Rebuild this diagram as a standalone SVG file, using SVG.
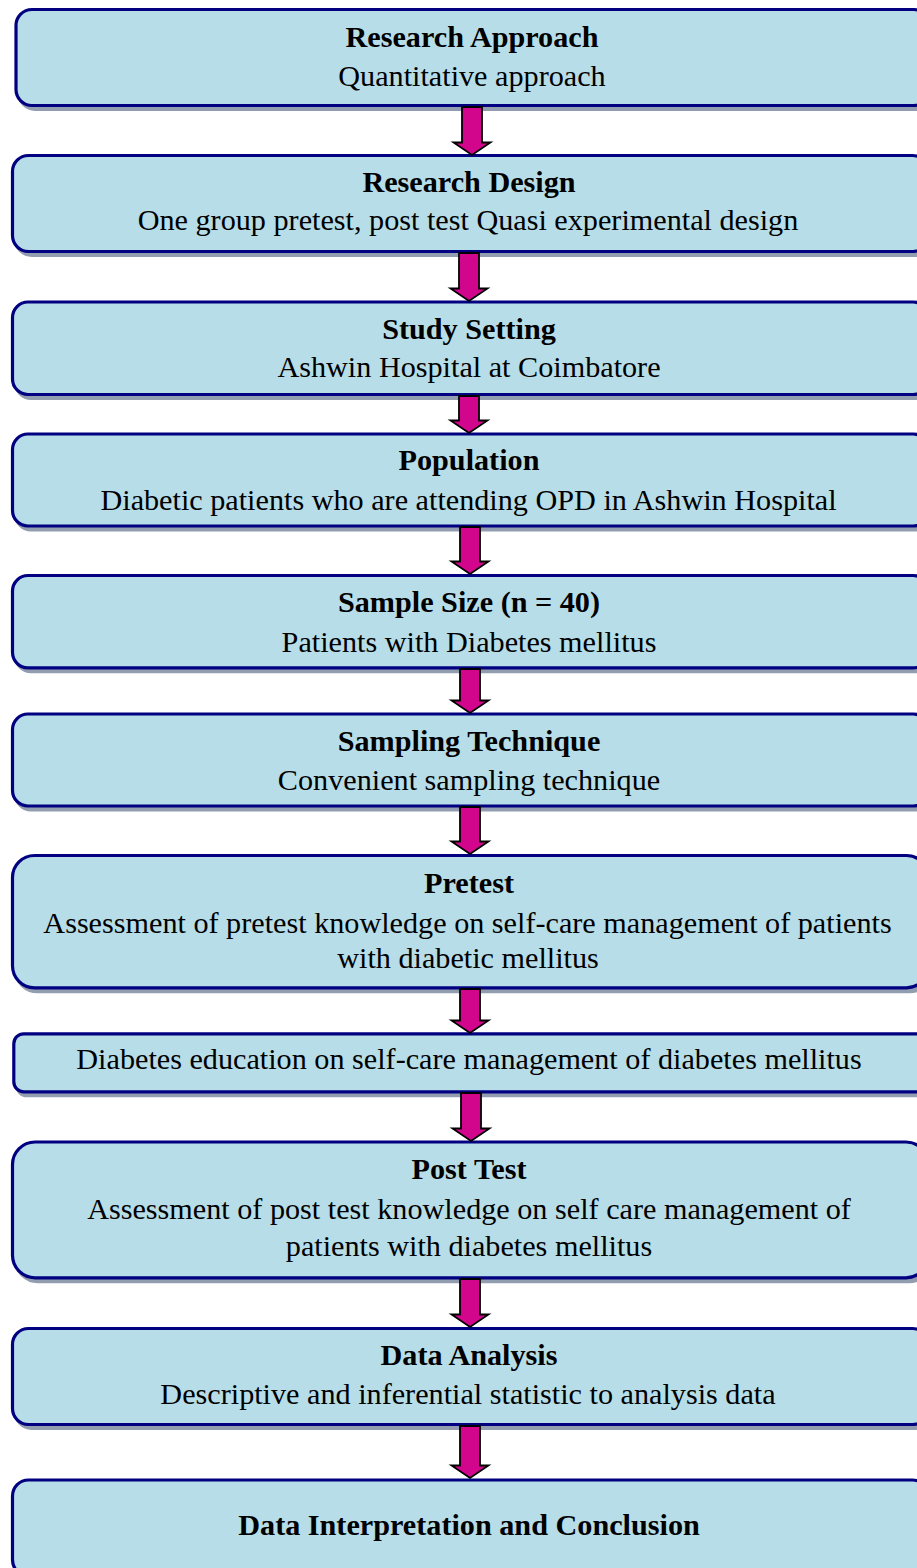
<svg xmlns="http://www.w3.org/2000/svg" width="917" height="1568" viewBox="0 0 917 1568">
<style>
.box{fill:#b7dde8;stroke:#000080;stroke-width:3.2}
.sh{fill:#929eb0;stroke:#929eb0;stroke-width:3}
.arr{fill:#d1068c;stroke:#000;stroke-width:1.8;stroke-linejoin:miter}
text{font-family:"Liberation Serif","Times New Roman",serif;font-size:30.2px;fill:#000;text-anchor:middle}
.t{font-weight:bold}
</style>
<rect width="917" height="1568" fill="#fff"/>
<g id="n1">
<rect class="sh" x="19" y="13.5" width="914" height="96" rx="16"/>
<rect class="box" x="16" y="9.5" width="914" height="96" rx="16"/>
<text class="t" x="472" y="47">Research Approach</text>
<text x="472" y="86">Quantitative approach</text>
</g>
<g id="n2">
<rect class="sh" x="15.5" y="159.5" width="916" height="96" rx="16"/>
<rect class="box" x="12.5" y="155.5" width="916" height="96" rx="16"/>
<text class="t" x="469" y="192">Research Design</text>
<text x="468" y="230">One group pretest, post test Quasi experimental design</text>
</g>
<g id="n3">
<rect class="sh" x="15.5" y="306" width="916" height="92.5" rx="15.5"/>
<rect class="box" x="12.5" y="302" width="916" height="92.5" rx="15.5"/>
<text class="t" x="469" y="339">Study Setting</text>
<text x="469" y="377">Ashwin Hospital at Coimbatore</text>
</g>
<g id="n4">
<rect class="sh" x="15.5" y="438" width="916" height="92" rx="15.5"/>
<rect class="box" x="12.5" y="434" width="916" height="92" rx="15.5"/>
<text class="t" x="469" y="470">Population</text>
<text x="468.5" y="510">Diabetic patients who are attending OPD in Ashwin Hospital</text>
</g>
<g id="n5">
<rect class="sh" x="15.5" y="579.5" width="916" height="92.3" rx="15.5"/>
<rect class="box" x="12.5" y="575.5" width="916" height="92.3" rx="15.5"/>
<text class="t" x="469" y="612">Sample Size (n = 40)</text>
<text x="469" y="652">Patients with Diabetes mellitus</text>
</g>
<g id="n6">
<rect class="sh" x="15.5" y="718" width="916" height="92" rx="15.5"/>
<rect class="box" x="12.5" y="714" width="916" height="92" rx="15.5"/>
<text class="t" x="469" y="751">Sampling Technique</text>
<text x="469" y="790">Convenient sampling technique</text>
</g>
<g id="n7">
<rect class="sh" x="15.5" y="859.5" width="916" height="132.3" rx="22"/>
<rect class="box" x="12.5" y="855.5" width="916" height="132.3" rx="22"/>
<text class="t" x="469" y="893">Pretest</text>
<text x="467.5" y="933">Assessment of pretest knowledge on self-care management of patients</text>
<text x="468" y="968">with diabetic mellitus</text>
</g>
<g id="n8">
<rect class="sh" x="16.8" y="1037.8" width="916" height="58" rx="10"/>
<rect class="box" x="13.8" y="1033.8" width="916" height="58" rx="10"/>
<text x="469" y="1069">Diabetes education on self-care management of diabetes mellitus</text>
</g>
<g id="n9">
<rect class="sh" x="15.5" y="1146" width="916" height="135.8" rx="22.5"/>
<rect class="box" x="12.5" y="1142" width="916" height="135.8" rx="22.5"/>
<text class="t" x="469" y="1179">Post Test</text>
<text x="469" y="1219">Assessment of post test knowledge on self care management of</text>
<text x="469" y="1256">patients with diabetes mellitus</text>
</g>
<g id="n10">
<rect class="sh" x="15.5" y="1332.5" width="916" height="96" rx="16"/>
<rect class="box" x="12.5" y="1328.5" width="916" height="96" rx="16"/>
<text class="t" x="469" y="1365">Data Analysis</text>
<text x="468" y="1404">Descriptive and inferential statistic to analysis data</text>
</g>
<g id="n11">
<rect class="sh" x="15.5" y="1484" width="916" height="96" rx="16"/>
<rect class="box" x="12.5" y="1480" width="916" height="96" rx="16"/>
<text class="t" x="469" y="1535">Data Interpretation and Conclusion</text>
</g>
<g id="connectors">
<polygon class="arr" points="462,107 482,107 482,142.5 490.5,142.5 472,155 453.5,142.5 462,142.5"/>
<polygon class="arr" points="459,253 479,253 479,288.5 487.5,288.5 469,301 450.5,288.5 459,288.5"/>
<polygon class="arr" points="459,396 479,396 479,420.5 487.5,420.5 469,433 450.5,420.5 459,420.5"/>
<polygon class="arr" points="460,527 480,527 480,561.5 488.5,561.5 470,574 451.5,561.5 460,561.5"/>
<polygon class="arr" points="460,669 480,669 480,700.5 488.5,700.5 470,713 451.5,700.5 460,700.5"/>
<polygon class="arr" points="460,807 480,807 480,841.5 488.5,841.5 470,854 451.5,841.5 460,841.5"/>
<polygon class="arr" points="460,989 480,989 480,1020.5 488.5,1020.5 470,1033 451.5,1020.5 460,1020.5"/>
<polygon class="arr" points="461,1093 481,1093 481,1128.5 489.5,1128.5 471,1141 452.5,1128.5 461,1128.5"/>
<polygon class="arr" points="460,1279 480,1279 480,1314.5 488.5,1314.5 470,1327 451.5,1314.5 460,1314.5"/>
<polygon class="arr" points="460,1426 480,1426 480,1465.5 488.5,1465.5 470,1478 451.5,1465.5 460,1465.5"/>
</g>
</svg>
